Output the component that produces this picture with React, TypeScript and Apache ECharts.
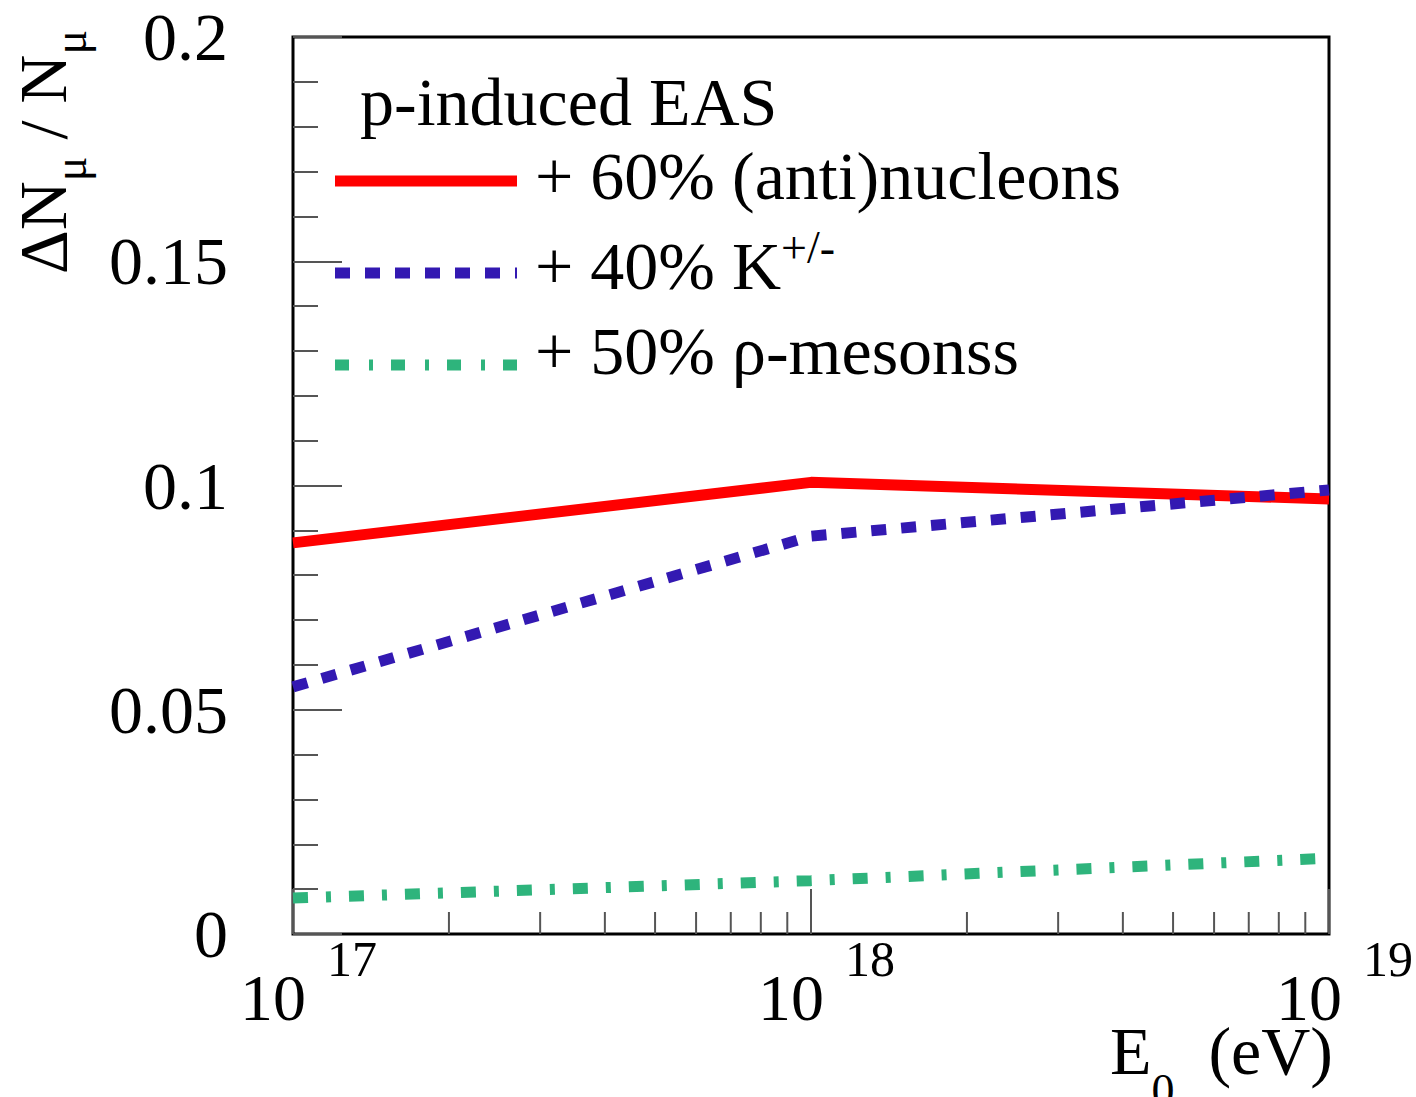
import React, { useEffect, useRef } from "react";
import * as echarts from "echarts";

// ---- data ----
const energies = [1e17, 1e18, 1e19];
const nucleons = [0.0872, 0.1007, 0.097];
const kaons = [0.0551, 0.0887, 0.099];
const rhoMesons = [0.008, 0.0119, 0.0169];
const xMinorTicks = [2e17, 3e17, 4e17, 5e17, 6e17, 7e17, 8e17, 9e17, 2e18, 3e18, 4e18, 5e18, 6e18, 7e18, 8e18, 9e18];
const seriesNames = ["+ 60% (anti)nucleons", "+ 40% K+/-", "+ 50% ρ-mesonss"];
const legendTitle = "p-induced EAS";

const FONT = "'Liberation Serif', 'DejaVu Serif', serif";
const RED = "#ff0000";
const BLUE = "#3319b2";
const GREEN = "#2eb47c";

export default function App() {
  const ref = useRef<HTMLDivElement>(null);
  useEffect(() => {
    document.body.style.margin = "0";
    if (!ref.current) return;
    const chart = echarts.init(ref.current, undefined, { renderer: "svg" });
    const pair = (ys: number[]) => energies.map((x, i) => [x, ys[i]]);
    const legendLine = (y: number, color: string, dash: number[] | null) => ({
      type: "line",
      shape: { x1: 335, y1: y, x2: 517, y2: y },
      style: { stroke: color, lineWidth: 11, lineDash: dash || undefined, lineCap: "butt" },
      z: 10,
    });
    chart.setOption({
      animation: false,
      backgroundColor: "#fff",
      grid: {
        left: 293,
        right: 85,
        top: 37,
        bottom: 163,
        show: true,
        borderColor: "#000",
        borderWidth: 3,
        backgroundColor: "transparent",
      },
      xAxis: {
        type: "log",
        logBase: 10,
        min: 1e17,
        max: 1e19,
        axisLine: { show: false },
        splitLine: { show: false },
        axisTick: { show: true, inside: true, length: 45, lineStyle: { color: "#555", width: 2 } },
        axisLabel: {
          margin: 0,
          formatter: (v: number) => `{b|10}{s|${Math.round(Math.log10(v))}}`,
          rich: {
            b: { fontFamily: FONT, fontSize: 66, lineHeight: 96, color: "#000", verticalAlign: "bottom", padding: [0, 0, 0, 31] },
            s: { fontFamily: FONT, fontSize: 50, lineHeight: 50, color: "#000", verticalAlign: "top", padding: [0, 0, 0, 21] },
          },
        },
      },
      yAxis: {
        type: "value",
        min: 0,
        max: 0.2,
        interval: 0.05,
        axisLine: { show: false },
        splitLine: { show: false },
        axisTick: { show: true, inside: true, length: 49, lineStyle: { color: "#555", width: 2 } },
        minorTick: { show: true, splitNumber: 5, length: 25, lineStyle: { color: "#555", width: 2 } },
        axisLabel: {
          margin: 65,
          fontFamily: FONT,
          fontSize: 68,
          color: "#000",
          formatter: (v: number) => String(parseFloat(v.toFixed(2))),
        },
      },
      series: [
        {
          type: "custom",
          silent: true,
          clip: false,
          z: 1,
          data: xMinorTicks.map((v) => [v, 0]),
          encode: { x: 0, y: 1 },
          renderItem: (params: any, api: any) => {
            const p = api.coord([api.value(0), 0]);
            return {
              type: "line",
              shape: { x1: p[0], y1: p[1], x2: p[0], y2: p[1] - 22 },
              style: { stroke: "#555", lineWidth: 2 },
            };
          },
        },
        {
          name: seriesNames[0],
          type: "line",
          data: pair(nucleons),
          symbol: "none",
          lineStyle: { color: RED, width: 11, cap: "butt" },
          z: 3,
        },
        {
          name: seriesNames[1],
          type: "line",
          data: pair(kaons),
          symbol: "none",
          lineStyle: { color: BLUE, width: 11, type: [15, 15], cap: "butt" },
          z: 4,
        },
        {
          name: seriesNames[2],
          type: "line",
          data: pair(rhoMesons),
          symbol: "none",
          lineStyle: { color: GREEN, width: 11, type: [15, 18, 5, 18], cap: "butt" },
          z: 4,
        },
      ],
      graphic: [
        // y axis title
        {
          type: "text",
          x: 51,
          y: 152,
          rotation: Math.PI / 2,
          style: {
            text: "{n|ΔN}{m|μ}{n| / N}{m|μ}",
            align: "center",
            verticalAlign: "middle",
            rich: {
              n: { fontFamily: FONT, fontSize: 68, lineHeight: 84, fill: "#000", verticalAlign: "top" },
              m: { fontFamily: FONT, fontSize: 46, lineHeight: 46, fill: "#000", verticalAlign: "bottom" },
            },
          },
        },
        // x axis title
        {
          type: "text",
          x: 1333,
          y: 1017,
          style: {
            text: "{n|E}{s|0}{n|  (eV)}",
            align: "right",
            verticalAlign: "top",
            rich: {
              n: { fontFamily: FONT, fontSize: 68, lineHeight: 96, fill: "#000", verticalAlign: "top" },
              s: { fontFamily: FONT, fontSize: 46, lineHeight: 46, fill: "#000", verticalAlign: "bottom" },
            },
          },
        },
        // legend
        {
          type: "text",
          x: 360,
          y: 102,
          style: { text: legendTitle, font: `68px ${FONT}`, fill: "#000", align: "left", verticalAlign: "middle" },
          z: 10,
        },
        legendLine(181, RED, null),
        legendLine(273, BLUE, [15, 15]),
        legendLine(365, GREEN, [14, 20, 4, 18]),
        {
          type: "text",
          x: 535,
          y: 176,
          style: { text: seriesNames[0], font: `68px ${FONT}`, fill: "#000", align: "left", verticalAlign: "middle" },
          z: 10,
        },
        {
          type: "text",
          x: 535,
          y: 262,
          style: {
            text: "{b|+ 40% K}{s|+/-}",
            align: "left",
            verticalAlign: "middle",
            rich: {
              b: { fontFamily: FONT, fontSize: 68, lineHeight: 76, fill: "#000", verticalAlign: "bottom" },
              s: { fontFamily: FONT, fontSize: 46, lineHeight: 46, fill: "#000", verticalAlign: "top" },
            },
          },
          z: 10,
        },
        {
          type: "text",
          x: 535,
          y: 351,
          style: { text: seriesNames[2], font: `68px ${FONT}`, fill: "#000", align: "left", verticalAlign: "middle" },
          z: 10,
        },
      ],
    });
    return () => chart.dispose();
  }, []);
  return (
    <div
      ref={ref}
      style={{ position: "absolute", left: 0, top: 0, width: 1416, height: 1097, background: "#fff" }}
    />
  );
}
